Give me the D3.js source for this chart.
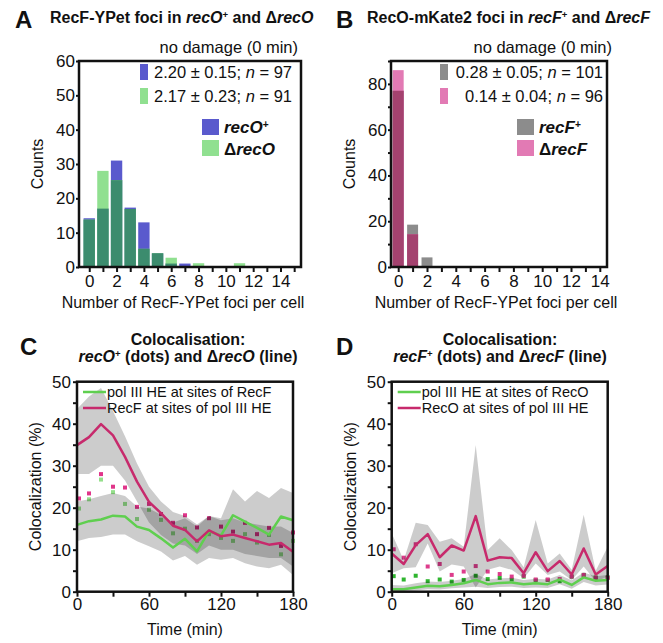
<!DOCTYPE html>
<html>
<head>
<meta charset="utf-8">
<script src="https://cdn.jsdelivr.net/npm/d3@7"></script>
<style>
body { margin: 0; background: #fff; }
svg text { font-family: "Liberation Sans", Arial, sans-serif; fill: #111; }
</style>
</head>
<body>
<svg width="663" height="643"></svg>
<script>
// histogram data: foci per cell
const bins = [0, 1, 2, 3, 4, 5, 6, 7, 8, 9, 10, 11, 12, 13, 14];
const recOplus  = [14.2, 17, 31, 17.3, 13, 4, 1, 1, 0, 0, 0, 0, 0, 0, 0];
const recOdelta = [13.8, 28, 25.3, 16.9, 5.3, 4, 2.7, 0, 1.1, 0, 0, 1.1, 0, 0, 0];
const recFplus  = [77, 18.5, 4.2, 0, 0, 0, 0, 0, 0, 0, 0, 0, 0, 0, 0];
const recFdelta = [86, 14.3, 0, 0, 0, 0, 0, 0, 0, 0, 0, 0, 0, 0, 0];

// colocalisation time course
const times = [0, 10, 20, 30, 40, 50, 60, 70, 80, 90, 100, 110, 120, 130, 140, 150, 160, 170, 180];

// panel C (recO+ dots, delta recO lines)
const cRecF     = [34.9, 36.8, 39.9, 37.2, 32.1, 26.2, 21.4, 18.7, 15.7, 14.7, 12.0, 14.6, 13.2, 13.6, 12.8, 12.0, 11.2, 11.6, 9.5];
const cRecFHi   = [43.5, 46.5, 48.5, 43, 37, 30.5, 25, 21.5, 19, 18, 16, 18, 17, 17.5, 16.5, 16, 15.5, 15.5, 14];
const cRecFLo   = [28, 28, 30, 30, 26.5, 21.5, 16.5, 13.5, 11.5, 11, 9, 11, 10, 10, 9, 8.5, 8, 8, 6];
const cPol      = [15.9, 16.8, 17.2, 18.1, 17.9, 15.5, 14.7, 12.7, 10.5, 12.6, 9.6, 14.4, 13.4, 18.2, 16.7, 15.2, 13.6, 17.9, 17.0];
const cPolHi    = [21.5, 22, 22.8, 23.5, 22.8, 20.3, 19.8, 18.3, 16.5, 17.5, 15.5, 18, 17.5, 24.4, 21.5, 24, 22.3, 24.7, 23.5];
const cPolLo    = [12, 12.8, 13, 13.6, 13.6, 12, 10.8, 9.6, 7.4, 8.5, 6.4, 8, 7.6, 8, 6.8, 6, 5.6, 6.4, 4];
const cDotRecF  = [22.2, 23.4, 28.0, 25.0, 24.8, 20.2, 20.9, 18.5, 16.4, 18.2, 15.3, 17.5, 15.5, 14.3, 16.4, 13.7, 15.2, 10.9, 14.1];
const cDotPol   = [19.8, 22.0, 26.7, 23.7, 20.9, 17.3, 19.5, 17.1, 13.9, 15.0, 12.1, 13.7, 12.8, 12.1, 13.7, 11.7, 13.5, 8.9, 12.1];

// panel D (recF+ dots, delta recF lines)
const dRecO     = [9.1, 6.6, 11.1, 13.7, 8.2, 11, 9.8, 18, 7.4, 8.2, 8, 4.4, 9.4, 4.9, 7.3, 4.1, 10.3, 4.1, 6.1];
const dRecOHi   = [13.9, 7.5, 16.4, 15.9, 11.9, 12.7, 10.7, 34.9, 9.9, 12.7, 9.9, 5.8, 17.1, 6.7, 9.1, 5.2, 18.3, 5, 10.7];
const dRecOLo   = [4.4, 5.6, 5.8, 11.5, 4.8, 6.5, 6, 1, 5.2, 6, 5.2, 3.2, 6.7, 4, 4.8, 2.8, 6, 2.4, 3.6];
const dPol      = [0.6, 0.6, 1.0, 1.4, 1.3, 1.6, 2.0, 2.8, 1.8, 2.1, 2.2, 1.8, 2.0, 1.8, 2.9, 1.6, 3.4, 2.6, 2.8];
const dPolHi    = [1.6, 1.5, 2.0, 2.4, 2.3, 2.6, 3.0, 4.2, 2.9, 3.2, 3.3, 2.8, 3.1, 2.9, 4.0, 2.7, 4.6, 3.7, 4.0];
const dPolLo    = [0.1, 0.1, 0.3, 0.6, 0.5, 0.8, 1.0, 1.2, 0.9, 1.1, 1.2, 0.9, 1.0, 0.9, 1.8, 0.7, 2.3, 1.5, 1.7];
const dDotRecO  = [10.1, 8.1, 11.3, 6.0, 6.6, 4.0, 4.8, 6.1, 4.8, 4.2, 3.6, 3.8, 2.9, 2.9, 3.0, 3.6, 4.0, 3.3, 3.3];
const dDotPol   = [3.7, 2.9, 3.8, 2.5, 2.9, 2.4, 2.8, 3.8, 3.0, 3.3, 2.9, 3.6, 2.8, 2.8, 2.5, 3.6, 4.0, 3.4, 3.4];

const svg = d3.select('svg');
const FONT = 16.5;
const TICKFONT = 17;

// write text made of [string, style] pieces; style: i italic, s superscript
function richText(parent, x, y, parts, opts = {}) {
    const size = opts.size || FONT;
    const t = parent.append('text').attr('x', x).attr('y', y)
        .attr('font-size', size)
        .attr('text-anchor', opts.anchor || 'start')
        .attr('font-weight', opts.bold ? 'bold' : 'normal');
    parts.forEach(([s, st = '']) => {
        const sp = t.append('tspan').text(s);
        if (st.includes('i')) sp.attr('font-style', 'italic');
        if (st.includes('s')) sp.attr('baseline-shift', 'super').attr('font-size', size * 0.6);
    });
    return t;
}

function styleAxis(g) {
    g.attr('font-size', TICKFONT).attr('font-family', '"Liberation Sans", Arial, sans-serif');
    g.selectAll('.domain').remove();
    g.selectAll('.tick line').attr('stroke', '#111').attr('stroke-width', 2);
    g.selectAll('.tick text').attr('fill', '#111');
}

function frame(g, l, r, t, b) {
    g.append('rect').attr('x', l).attr('y', t).attr('width', r - l).attr('height', b - t)
        .attr('fill', 'none').attr('stroke', '#111').attr('stroke-width', 2.5);
}

function histPanel(o) {
    const g = svg.append('g');
    const x = d3.scaleLinear().domain(o.xDomain).range([o.left, o.right]);
    const y = d3.scaleLinear().domain([0, o.yMax]).range([o.bottom, o.top]);
    const bw = x(o.barW) - x(0);
    const rows = bins.map((b, i) => ({ bin: b, a: o.a[i], b: o.b[i] }));

    const layers = [
        [d => d.a, o.colA],
        [d => d.b, o.colB],
        [d => Math.min(d.a, d.b), o.colMix]
    ];
    layers.forEach(([val, col]) => {
        g.append('g').selectAll('rect').data(rows.filter(d => val(d) > 0)).enter().append('rect')
            .attr('x', d => x(d.bin) - bw / 2).attr('width', bw)
            .attr('y', d => y(val(d))).attr('height', d => y(0) - y(val(d)))
            .attr('fill', col);
    });

    const xa = g.append('g').attr('transform', `translate(0,${o.bottom})`)
        .call(d3.axisBottom(x).tickValues(o.xTicks).tickSize(5).tickPadding(3)
            .tickFormat(d => (d % 2 === 0 && d <= 14) ? d : ''));
    styleAxis(xa);
    const ya = g.append('g').attr('transform', `translate(${o.left},0)`)
        .call(d3.axisLeft(y).tickValues(o.yTicks).tickSize(3).tickPadding(1)
            .tickFormat(d => o.yLabels.includes(d) ? d : ''));
    styleAxis(ya);
    frame(g, o.left, o.right, o.top, o.bottom);

    // panel letter and title
    g.append('text').attr('x', o.letterX).attr('y', 28).attr('font-size', 24)
        .attr('font-weight', 'bold').text(o.letter);
    richText(g, o.titleX, 23, o.title, { bold: true, size: 16 });
    richText(g, o.noDmgX, 53, [['no damage (0 min)']], { anchor: 'end' });

    // stats rows
    o.stats.forEach((s, i) => {
        g.append('rect').attr('x', o.statX).attr('y', 64 + i * 24).attr('width', 8).attr('height', 16)
            .attr('fill', s.col);
        richText(g, o.statRight, 78 + i * 24, s.text, { anchor: 'end' });
    });
    // series legend
    o.keys.forEach((k, i) => {
        g.append('rect').attr('x', o.keyX).attr('y', 119 + i * 21).attr('width', 17).attr('height', 16)
            .attr('fill', k.col);
        richText(g, o.keyX + 22, 133 + i * 22, k.text, { bold: true, size: 17 });
    });

    g.append('text').attr('transform', `translate(${o.left - 36},${(o.top + o.bottom) / 2}) rotate(-90)`)
        .attr('text-anchor', 'middle').attr('font-size', 16).text('Counts');
    g.append('text').attr('x', o.xTitleX).attr('y', 308)
        .attr('text-anchor', 'middle').attr('font-size', 16).text('Number of RecF-YPet foci per cell');
}

function coloPanel(o) {
    const g = svg.append('g');
    const x = d3.scaleLinear().domain([0, 180]).range([o.left, o.right]);
    const y = d3.scaleLinear().domain([0, 50]).range([o.bottom, o.top]);
    const sq = 4;

    // dots (under the shaded bands)
    [[o.dotPol, o.dotColPol], [o.dotRec, o.dotColRec]].forEach(([vals, col]) => {
        g.append('g').selectAll('rect').data(vals).enter().append('rect')
            .attr('x', (d, i) => x(times[i]) - sq / 2 + (i === 0 ? 2 : 0))
            .attr('y', d => y(d) - sq / 2).attr('width', sq).attr('height', sq)
            .attr('fill', col);
    });

    const area = d3.area().x(d => x(d.t)).y0(d => y(d.lo)).y1(d => y(d.hi));
    [[o.recLo, o.recHi], [o.polLo, o.polHi]].forEach(([lo, hi]) => {
        g.append('path').datum(times.map((t, i) => ({ t, lo: lo[i], hi: hi[i] })))
            .attr('d', area).attr('fill', '#000').attr('fill-opacity', 0.2);
    });

    const line = d3.line().x((d, i) => x(times[i])).y(d => y(d));
    [[o.pol, o.colPol], [o.rec, o.colRec]].forEach(([vals, col]) => {
        g.append('path').datum(vals).attr('d', line).attr('fill', 'none')
            .attr('stroke', col).attr('stroke-width', 2.5).attr('stroke-linejoin', 'round');
    });

    const xa = g.append('g').attr('transform', `translate(0,${o.bottom})`)
        .call(d3.axisBottom(x).tickValues([0, 30, 60, 90, 120, 150, 180]).tickSize(5).tickPadding(1)
            .tickFormat(d => d % 60 === 0 ? d : ''));
    styleAxis(xa);
    const ya = g.append('g').attr('transform', `translate(${o.left},0)`)
        .call(d3.axisLeft(y).tickValues([0, 5, 10, 15, 20, 25, 30, 35, 40, 45, 50]).tickSize(4).tickPadding(2)
            .tickFormat(d => d % 10 === 0 ? d : ''));
    styleAxis(ya);
    frame(g, o.left, o.right, o.top, o.bottom);

    g.append('text').attr('x', o.letterX).attr('y', 355).attr('font-size', 24)
        .attr('font-weight', 'bold').text(o.letter);
    richText(g, o.titleX, 345, [['Colocalisation:']], { bold: true, anchor: 'middle', size: 16 });
    richText(g, o.titleX, 362, o.title, { bold: true, anchor: 'middle', size: 16 });

    // legend
    [[o.colPol, o.legPol], [o.colRec, o.legRec]].forEach(([col, label], i) => {
        const ly = 392 + i * 16;
        g.append('line').attr('x1', o.left + 6).attr('x2', o.left + 29).attr('y1', ly).attr('y2', ly)
            .attr('stroke', col).attr('stroke-width', 2.5);
        g.append('text').attr('x', o.left + 30).attr('y', ly + 5).attr('font-size', 14.5).text(label);
    });

    g.append('text').attr('transform', `translate(${o.left - 36},${(o.top + o.bottom) / 2}) rotate(-90)`)
        .attr('text-anchor', 'middle').attr('font-size', 16).text('Colocalization (%)');
    g.append('text').attr('x', (o.left + o.right) / 2).attr('y', 635)
        .attr('text-anchor', 'middle').attr('font-size', 16).text('Time (min)');
}

histPanel({
    left: 79, right: 301, top: 61, bottom: 267,
    xDomain: [-0.75, 15.5], barW: 0.83, yMax: 60,
    xTicks: [0, 1, 2, 3, 4, 5, 6, 7, 8, 9, 10, 11, 12, 13, 14, 15],
    yTicks: [0, 10, 20, 30, 40, 50, 60], yLabels: [0, 10, 20, 30, 40, 50, 60],
    a: recOplus, b: recOdelta, colA: '#5a5acd', colB: '#90e090', colMix: '#3c8c6e',
    letter: 'A', letterX: 15, titleX: 50, noDmgX: 298, xTitleX: 183,
    title: [['RecF-YPet foci in '], ['recO', 'i'], ['+', 's'], [' and Δ'], ['recO', 'i']],
    statX: 140, statRight: 292,
    stats: [
        { col: '#5a5acd', text: [['2.20 ± 0.15; '], ['n', 'i'], [' = 97']] },
        { col: '#90e090', text: [['2.17 ± 0.23; '], ['n', 'i'], [' = 91']] }
    ],
    keyX: 202,
    keys: [
        { col: '#5a5acd', text: [['recO', 'i'], ['+', 's']] },
        { col: '#90e090', text: [['Δ'], ['recO', 'i']] }
    ]
});

histPanel({
    left: 391, right: 607, top: 61, bottom: 267,
    xDomain: [-0.5, 14.5], barW: 0.76, yMax: 90,
    xTicks: [0, 1, 2, 3, 4, 5, 6, 7, 8, 9, 10, 11, 12, 13, 14],
    yTicks: [0, 10, 20, 30, 40, 50, 60, 70, 80, 90], yLabels: [0, 20, 40, 60, 80],
    a: recFplus, b: recFdelta, colA: '#8c8c8c', colB: '#e27ab4', colMix: '#a4426f',
    letter: 'B', letterX: 336, titleX: 367, noDmgX: 612, xTitleX: 496,
    title: [['RecO-mKate2 foci in '], ['recF', 'i'], ['+', 's'], [' and Δ'], ['recF', 'i']],
    statX: 440, statRight: 603,
    stats: [
        { col: '#8c8c8c', text: [['0.28 ± 0.05; '], ['n', 'i'], [' = 101']] },
        { col: '#e27ab4', text: [['0.14 ± 0.04; '], ['n', 'i'], [' = 96']] }
    ],
    keyX: 517,
    keys: [
        { col: '#8c8c8c', text: [['recF', 'i'], ['+', 's']] },
        { col: '#e27ab4', text: [['Δ'], ['recF', 'i']] }
    ]
});

coloPanel({
    left: 77, right: 293, top: 381.7, bottom: 591.7,
    letter: 'C', letterX: 20, titleX: 188,
    title: [['recO', 'i'], ['+', 's'], [' (dots) and Δ'], ['recO', 'i'], [' (line)']],
    rec: cRecF, recHi: cRecFHi, recLo: cRecFLo,
    pol: cPol, polHi: cPolHi, polLo: cPolLo,
    dotRec: cDotRecF, dotPol: cDotPol,
    colRec: '#c72a6c', colPol: '#5fcf4f', dotColRec: '#e0358a', dotColPol: '#94df8a',
    legPol: 'pol III HE at sites of RecF', legRec: 'RecF at sites of pol III HE'
});

coloPanel({
    left: 391.7, right: 607.7, top: 381.7, bottom: 591.7,
    letter: 'D', letterX: 336, titleX: 500,
    title: [['recF', 'i'], ['+', 's'], [' (dots) and Δ'], ['recF', 'i'], [' (line)']],
    rec: dRecO, recHi: dRecOHi, recLo: dRecOLo,
    pol: dPol, polHi: dPolHi, polLo: dPolLo,
    dotRec: dDotRecO, dotPol: dDotPol,
    colRec: '#c72a6c', colPol: '#5fcf4f', dotColRec: '#dd3c8c', dotColPol: '#2fb52f',
    legPol: 'pol III HE at sites of RecO', legRec: 'RecO at sites of pol III HE'
});
</script>
</body>
</html>
